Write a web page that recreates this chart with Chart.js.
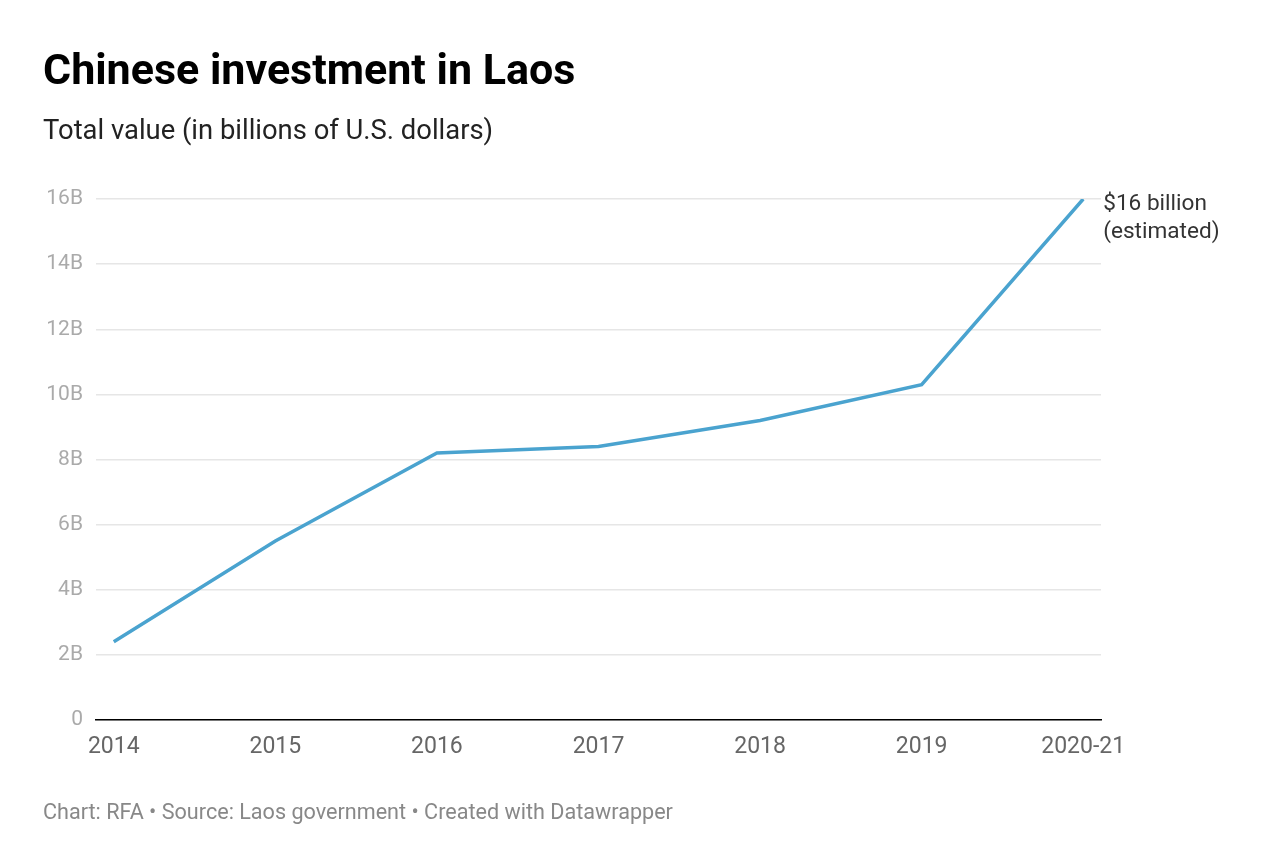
<!DOCTYPE html>
<html>
<head>
<meta charset="utf-8">
<script src="https://cdn.jsdelivr.net/npm/chart.js@4"></script>
<style>
  html, body { margin: 0; padding: 0; background: #fff; }
  body { width: 1274px; height: 858px; position: relative; overflow: hidden; font-family: Roboto, "Noto Sans", sans-serif; }
  #title, #subtitle, #footer { position: absolute; left: 43px; line-height: 1; white-space: nowrap; }
  #title { top: 48px; font-size: 43px; font-weight: 700; color: #000; }
  #subtitle { top: 117px; font-size: 27.4px; color: #222; }
  #footer { top: 801px; font-size: 21.6px; color: #888; }
  #wrap { position: absolute; left: 0; top: 0; width: 1274px; height: 858px; }
</style>
</head>
<body>
<div id="wrap"><canvas id="chart"></canvas></div>
<div id="title">Chinese investment in Laos</div>
<div id="subtitle">Total value (in billions of U.S. dollars)</div>
<div id="footer">Chart: RFA • Source: Laos government • Created with Datawrapper</div>
<script>
/* Chart data */
const YEARS = ['2014', '2015', '2016', '2017', '2018', '2019', '2020-21'];
const INVESTMENT = [2.4, 5.5, 8.2, 8.4, 9.2, 10.3, 16];
const Y_TICKS = [0, 2, 4, 6, 8, 10, 12, 14, 16];
const END_LABEL = ['$16 billion', '(estimated)'];

/* Label next to the last point */
const endLabel = {
    id: 'endLabel',
    afterDatasetsDraw(chart) {
        const ctx = chart.ctx;
        const meta = chart.getDatasetMeta(0);
        const last = meta.data[meta.data.length - 1];
        ctx.save();
        ctx.font = '22.6px Roboto, "Noto Sans", sans-serif';
        ctx.fillStyle = '#333';
        ctx.textBaseline = 'middle';
        ctx.textAlign = 'left';
        ctx.fillText(END_LABEL[0], last.x + 20, last.y + 5);
        ctx.fillText(END_LABEL[1], last.x + 20, last.y + 33);
        ctx.restore();
    }
};

new Chart(document.getElementById('chart').getContext('2d'), {
    type: 'line',
    data: {
        datasets: [{
            label: 'Total value',
            data: INVESTMENT.map((v, i) => ({ x: i, y: v })),
            borderColor: '#4aa3cf',
            borderWidth: 3.5,
            pointRadius: 0,
            fill: false,
            tension: 0
        }]
    },
    options: {
        responsive: true,
        maintainAspectRatio: false,
        animation: false,
        layout: { padding: { top: 199, right: 173, bottom: 98, left: 0 } },
        plugins: { legend: { display: false }, tooltip: { enabled: false } },
        scales: {
            x: {
                type: 'linear',
                min: -0.11,
                max: 6.11,
                afterBuildTicks: (scale) => { scale.ticks = YEARS.map((_, i) => ({ value: i })); },
                afterFit: (scale) => { scale.height = 40; },
                grid: { display: false, drawTicks: false },
                border: { display: true, color: '#000', width: 1.5 },
                ticks: {
                    padding: 13,
                    color: '#666',
                    font: { size: 23, family: 'Roboto, "Noto Sans", sans-serif' },
                    maxRotation: 0,
                    callback: (v) => YEARS[v]
                }
            },
            y: {
                min: 0,
                max: 16,
                afterBuildTicks: (scale) => { scale.ticks = Y_TICKS.map(v => ({ value: v })); },
                afterFit: (scale) => { scale.width = 96; },
                grid: { color: '#e6e6e6', lineWidth: 1.5, drawTicks: false },
                border: { display: false },
                ticks: {
                    padding: 13,
                    color: '#aaa',
                    font: { size: 21, family: 'Roboto, "Noto Sans", sans-serif' },
                    callback: (v) => v === 0 ? '0' : v + 'B'
                }
            }
        }
    },
    plugins: [endLabel]
});
</script>
</body>
</html>
